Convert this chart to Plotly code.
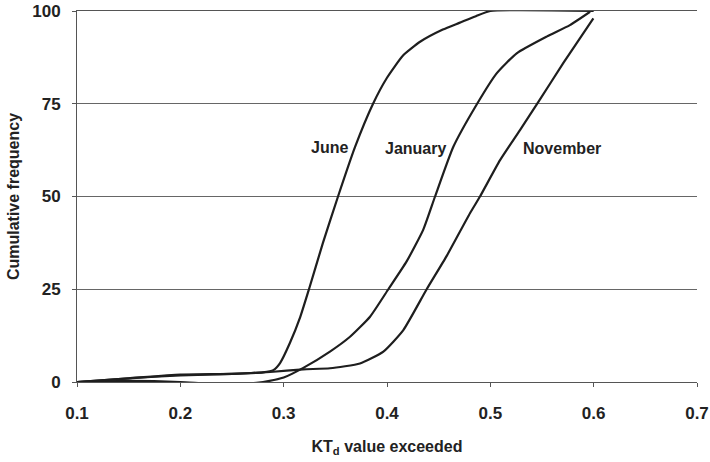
import plotly.graph_objects as go

june_x = [0.1, 0.15, 0.2, 0.25, 0.28, 0.29, 0.2965, 0.306, 0.316, 0.3245, 0.338, 0.3526,
          0.369, 0.3865, 0.400, 0.4155, 0.432, 0.454, 0.470, 0.486, 0.500, 0.6]
june_y = [0, 1.0, 2.0, 2.2, 2.6, 3.2, 5.1, 10.5, 17.5, 25, 37.5, 50,
          63.3, 75, 82, 88, 91.7, 95, 96.8, 98.6, 100, 100]

jan_x = [0.1, 0.15, 0.2, 0.23, 0.26, 0.28, 0.3, 0.319, 0.3448, 0.3642, 0.3836, 0.4013,
         0.419, 0.435, 0.4465, 0.4642, 0.4868, 0.5061, 0.5255, 0.5545, 0.577, 0.5965]
jan_y = [0, 0.3, 0, -0.5, -0.5, 0, 1.2, 3.8, 8.2, 12.2, 17.6, 25,
         32.5, 41, 50, 63.4, 74.8, 83.2, 88.6, 93.1, 96.2, 99.8]

nov_x = [0.1, 0.15, 0.2, 0.25, 0.287, 0.319, 0.3448, 0.3738, 0.3965, 0.4158, 0.4384,
         0.4578, 0.4803, 0.490, 0.5094, 0.5287, 0.5465, 0.5707, 0.5997]
nov_y = [0, 1.0, 1.8, 2.2, 2.7, 3.4, 3.7, 5.0, 8.2, 14, 25,
         34, 45.5, 50, 59.8, 67.9, 75.5, 86, 98]

x_ticks = [0.1, 0.2, 0.3, 0.4, 0.5, 0.6, 0.7]
y_ticks = [0, 25, 50, 75, 100]

labels = ["June", "January", "November"]
label_x = [0.344, 0.428, 0.569]
label_y = [63.3, 63, 63]

FONT = "Liberation Sans, Arial, sans-serif"
LINE = "#1e1e1e"

fig = go.Figure()
for xs, ys, name in [(june_x, june_y, "June"), (jan_x, jan_y, "January"), (nov_x, nov_y, "November")]:
    fig.add_trace(go.Scatter(x=xs, y=ys, mode="lines", name=name,
                             line=dict(color=LINE, width=2.2, shape="spline", smoothing=0.5),
                             showlegend=False, hoverinfo="skip"))

for t, lx, ly in zip(labels, label_x, label_y):
    fig.add_annotation(x=lx, y=ly, text="<b>%s</b>" % t, showarrow=False,
                       font=dict(family=FONT, size=16, color="#222"))

fig.update_layout(
    width=710, height=462,
    margin=dict(l=77, r=13, t=11, b=80),
    paper_bgcolor="white", plot_bgcolor="white",
    font=dict(family=FONT, color="#222"),
)
fig.update_xaxes(
    range=[0.1, 0.7], tickvals=x_ticks, ticktext=["<b>%.1f</b>" % v for v in x_ticks],
    automargin=False,
    showgrid=False, zeroline=False,
    showline=True, linecolor="#555", linewidth=1, mirror=True,
    ticks="outside", ticklen=4, tickcolor="#555",
    tickfont=dict(family=FONT, size=17, color="#222"),
    ticklabelstandoff=12,
    title=dict(text="<b>KT<sub>d</sub> value exceeded</b>", font=dict(family=FONT, size=16, color="#222"),
               standoff=18),
)
fig.update_yaxes(
    range=[0, 100], tickvals=y_ticks, ticktext=["<b>%d</b>" % v for v in y_ticks],
    automargin=False,
    showgrid=True, gridcolor="#666", gridwidth=1, zeroline=False,
    showline=True, linecolor="#555", linewidth=1,
    ticks="outside", ticklen=4, tickcolor="#555",
    tickfont=dict(family=FONT, size=17, color="#222"),
    ticklabelstandoff=8,
    title=dict(text="<b>Cumulative frequency</b>", font=dict(family=FONT, size=16, color="#222"),
               standoff=8),
)

fig.write_html("out.html", config={"displayModeBar": False},
               post_script="document.body.style.margin='0';")
